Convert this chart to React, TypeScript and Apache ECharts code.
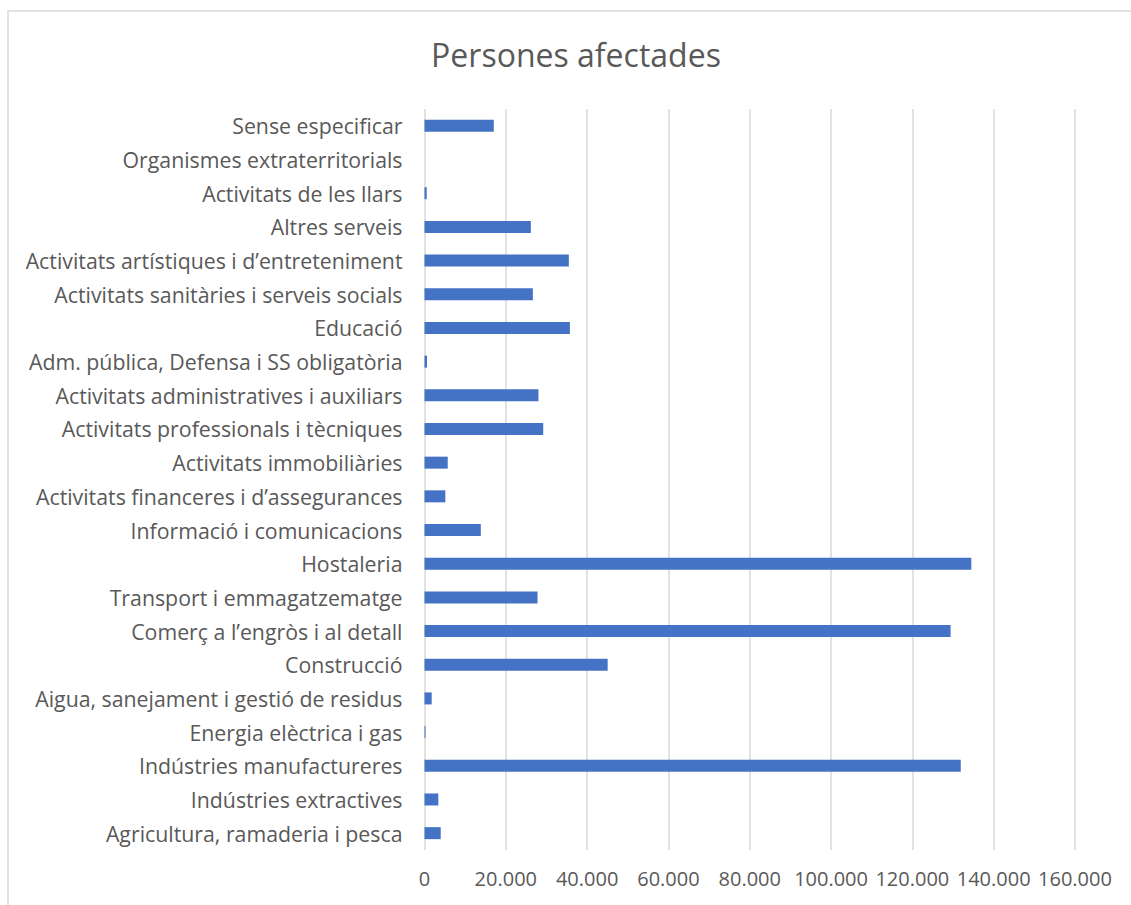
import React, { useEffect, useRef } from "react";
import * as echarts from "echarts";

const categories = [
  "Agricultura, ramaderia i pesca",
  "Indústries extractives",
  "Indústries manufactureres",
  "Energia elèctrica i gas",
  "Aigua, sanejament i gestió de residus",
  "Construcció",
  "Comerç a l’engròs i al detall",
  "Transport i emmagatzematge",
  "Hostaleria",
  "Informació i comunicacions",
  "Activitats financeres i d’assegurances",
  "Activitats immobiliàries",
  "Activitats professionals i tècniques",
  "Activitats administratives i auxiliars",
  "Adm. pública, Defensa i SS obligatòria",
  "Educació",
  "Activitats sanitàries i serveis socials",
  "Activitats artístiques i d’entreteniment",
  "Altres serveis",
  "Activitats de les llars",
  "Organismes extraterritorials",
  "Sense especificar",
];

const values = [
  3990, 3400, 131900, 250, 1770, 45050, 129400, 27800, 134500, 13850, 5130,
  5710, 29200, 28030, 620, 35760, 26650, 35500, 26160, 540, 0, 17040,
];

const title = "Persones afectades";

const fmt = (v: number) =>
  v === 0 ? "0" : String(v).replace(/\B(?=(\d{3})+(?!\d))/g, ".");

export default function App() {
  const ref = useRef<HTMLDivElement>(null);
  useEffect(() => {
    if (!ref.current) return;
    const chart = echarts.init(ref.current, null, { renderer: "svg" });
    const font = "Open Sans, Noto Sans, sans-serif";
    chart.setOption({
      animation: false,
      backgroundColor: "#ffffff",
      title: {
        text: title,
        top: 33,
        left: 571,
        textAlign: "center",
        textStyle: {
          fontFamily: font,
          fontSize: 32,
          fontWeight: "normal",
          color: "#595959",
        },
      },
      graphic: [
        {
          type: "rect",
          shape: { x: 8, y: 11, width: 1140, height: 910 },
          style: { fill: "none", stroke: "#d9d9d9", lineWidth: 1.5 },
          silent: true,
        },
      ],
      grid: {
        left: 424.5,
        right: 1131 - 1075,
        top: 109,
        bottom: 905 - 850,
        containLabel: false,
      },
      xAxis: {
        type: "value",
        min: 0,
        max: 160000,
        interval: 20000,
        axisLine: { show: false },
        axisTick: { show: false },
        axisLabel: {
          formatter: fmt,
          color: "#595959",
          fontFamily: font,
          fontSize: 20,
          margin: 18,
        },
        splitLine: { lineStyle: { color: "#d9d9d9", width: 1.5 } },
      },
      yAxis: {
        type: "category",
        data: categories,
        axisLine: { show: false },
        axisTick: { show: false },
        axisLabel: {
          color: "#595959",
          fontFamily: font,
          fontSize: 21.3,
          margin: 22,
          interval: 0,
        },
      },
      series: [
        {
          type: "bar",
          data: values,
          barWidth: 12,
          itemStyle: { color: "#4472C4" },
        },
      ],
    });
    return () => chart.dispose();
  }, []);
  return (
    <div
      ref={ref}
      style={{
        position: "fixed",
        left: 0,
        top: 0,
        width: 1131,
        height: 905,
      }}
    />
  );
}
